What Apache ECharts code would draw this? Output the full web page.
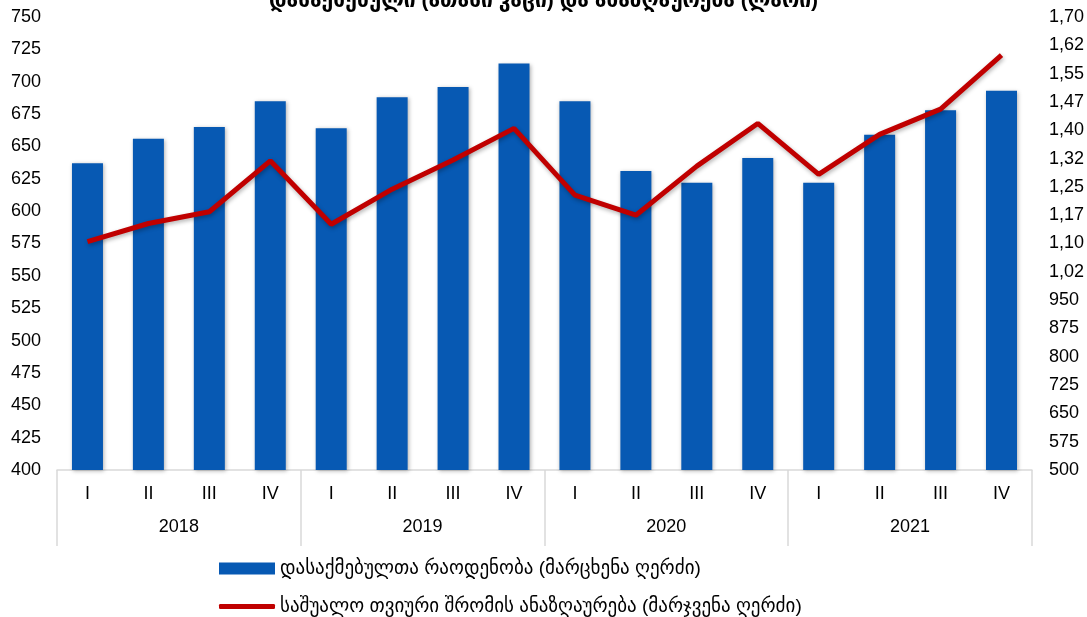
<!DOCTYPE html>
<html>
<head>
<meta charset="utf-8">
<script src="https://cdn.jsdelivr.net/npm/echarts@6/dist/echarts.min.js"></script>
<style>
  html, body { margin: 0; padding: 0; background: #fff; }
  #chart { width: 1087px; height: 617px; }
</style>
</head>
<body>
<div id="chart"></div>
<script>
// quarters / years on the two-level category axis
const quarters = ["I", "II", "III", "IV", "I", "II", "III", "IV", "I", "II", "III", "IV", "I", "II", "III", "IV"];
const years = ["2018", "2019", "2020", "2021"];

// employed (thousand people), left axis
const employed = [637, 656, 665, 685, 664, 688, 696, 714, 685, 631, 622, 641, 622, 659, 678, 693];
// average monthly wage (GEL), right axis
const wage = [1105, 1153, 1184, 1319, 1151, 1244, 1321, 1405, 1228, 1175, 1305, 1418, 1283, 1389, 1456, 1599];

const barName = "დასაქმებულთა რაოდენობა (მარცხენა ღერძი)";
const lineName = "საშუალო თვიური შრომის ანაზღაურება (მარჯვენა ღერძი)";

const FONT = "'Liberation Sans', Arial, 'DejaVu Sans', sans-serif";

const chart = echarts.init(document.getElementById("chart"));

// right axis labels are cut like in the source: 1025 -> "1,02"
const rightFmt = (v) => {
  const s = String(v);
  return v >= 1000 ? s[0] + "," + s.slice(1, 3) : s;
};

const legendText = { fontFamily: FONT, fontSize: 19, color: "#000" };

const option = {
  animation: false,
  title: {
    text: "დასაქმებული (ათასი კაცი) და ანაზღაურება (ლარი)",
    left: "center",
    top: -14,
    textStyle: { fontFamily: FONT, fontSize: 21, fontWeight: "bold", color: "#000" }
  },
  legend: [
    {
      left: 214,
      top: 554,
      itemWidth: 56,
      itemHeight: 12,
      itemGap: 4,
      textStyle: legendText,
      data: [{ name: barName, icon: "rect" }]
    },
    {
      left: 214,
      top: 592,
      itemWidth: 56,
      itemHeight: 5,
      itemGap: 4,
      textStyle: legendText,
      data: [{ name: lineName, icon: "roundRect", itemStyle: { color: "#c00000" } }]
    }
  ],
  grid: { left: 57, right: 53, top: 17, bottom: 147 },
  xAxis: [
    {
      type: "category",
      data: quarters,
      axisLine: { lineStyle: { color: "#d9d9d9", width: 1.5 } },
      axisTick: { show: false },
      axisLabel: { margin: 15, fontFamily: FONT, fontSize: 18, color: "#000" }
    },
    {
      type: "category",
      data: years,
      position: "bottom",
      axisLine: { show: false },
      axisTick: { show: true, length: 76, lineStyle: { color: "#d9d9d9", width: 1.5 } },
      axisLabel: { margin: 48, fontFamily: FONT, fontSize: 18, color: "#000" }
    }
  ],
  yAxis: [
    {
      type: "value",
      min: 400,
      max: 750,
      interval: 25,
      splitLine: { show: false },
      axisLine: { show: false },
      axisTick: { show: false },
      axisLabel: { margin: 16, fontFamily: FONT, fontSize: 18, color: "#000" }
    },
    {
      type: "value",
      min: 500,
      max: 1700,
      interval: 75,
      splitLine: { show: false },
      axisLine: { show: false },
      axisTick: { show: false },
      axisLabel: { margin: 17, fontFamily: FONT, fontSize: 18, color: "#000", formatter: rightFmt }
    }
  ],
  series: [
    {
      name: barName,
      type: "bar",
      xAxisIndex: 0,
      yAxisIndex: 0,
      barWidth: 31,
      data: employed,
      itemStyle: {
        color: "#0759b3",
        shadowBlur: 4,
        shadowColor: "rgba(0,0,0,0.3)",
        shadowOffsetX: 1,
        shadowOffsetY: 1
      }
    },
    {
      name: lineName,
      type: "line",
      xAxisIndex: 0,
      yAxisIndex: 1,
      data: wage,
      symbol: "none",
      lineStyle: {
        color: "#c00000",
        width: 5,
        shadowBlur: 4,
        shadowColor: "rgba(0,0,0,0.3)",
        shadowOffsetX: 1,
        shadowOffsetY: 2
      },
      itemStyle: { color: "#c00000" }
    }
  ]
};

chart.setOption(option);
</script>
</body>
</html>
